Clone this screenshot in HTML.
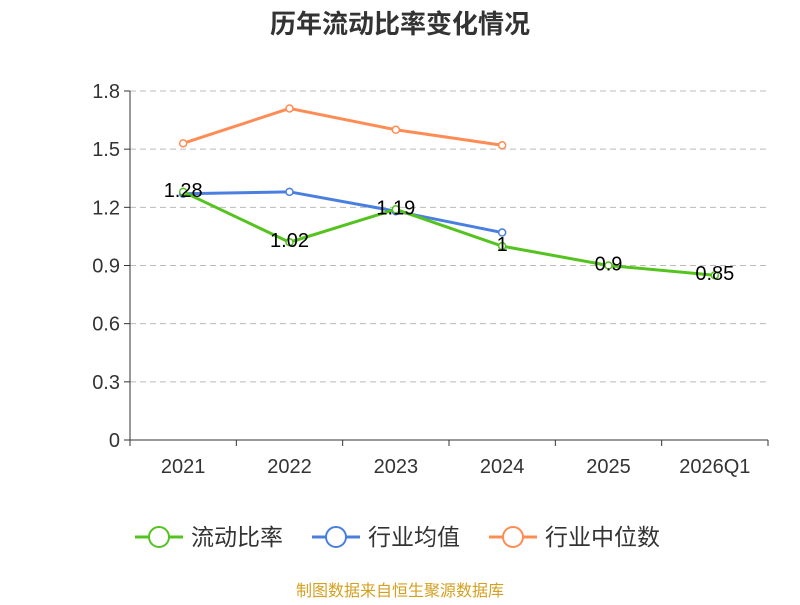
<!DOCTYPE html>
<html><head><meta charset="utf-8"><style>
body{margin:0;background:#fff;font-family:"Liberation Sans","Noto Sans CJK SC",sans-serif}
</style></head><body>
<svg width="800" height="600" xmlns="http://www.w3.org/2000/svg" font-family="Liberation Sans, Noto Sans CJK SC, sans-serif">
<rect width="800" height="600" fill="#fff"/>
<text x="400" y="33" text-anchor="middle" font-size="26" font-weight="bold" fill="#333">历年流动比率变化情况</text>
<g id="grid"></g><g id="axes"></g><g id="series"></g>
<g id="legend"></g>
<text x="400" y="596" text-anchor="middle" font-size="16" fill="#d4a020">制图数据来自恒生聚源数据库</text>
</svg>
<script>
const categories=["2021","2022","2023","2024","2025","2026Q1"];
const ratioValues=[1.28,1.02,1.19,1.0,0.9,0.85];
const ratioLabels=["1.28","1.02","1.19","1","0.9","0.85"];
const industryAvg=[1.27,1.28,1.18,1.07];
const industryMedian=[1.53,1.71,1.60,1.52];
const yTicks=[0,0.3,0.6,0.9,1.2,1.5,1.8];
const NS="http://www.w3.org/2000/svg";
const L=130,R=768,T=91,B=440,yMax=1.8;
const bw=(R-L)/categories.length;
const x=i=>L+bw*(i+0.5);
const y=v=>B-(v/yMax)*(B-T);
function mk(tag,attrs,parent,text){const e=document.createElementNS(NS,tag);for(const k in attrs)e.setAttribute(k,attrs[k]);if(text!==undefined)e.textContent=text;document.getElementById(parent).appendChild(e);return e;}
yTicks.forEach(t=>{
 if(t>0){const g=mk('line',{x1:L,x2:R,y1:y(t),y2:y(t),stroke:'#bbb','stroke-dasharray':'6,4'},'grid');
 
 }
 const tk=mk('line',{x1:L-6,x2:L,y1:y(t),y2:y(t),stroke:'#333'},'axes');
 
 
 const lb=mk('text',{x:L-10,y:y(t)+7,'text-anchor':'end','font-size':20,fill:'#333'},'axes',String(t));
 
 
});
const ya=mk('line',{x1:L,x2:L,y1:T,y2:B,stroke:'#333'},'axes');


const xa=mk('line',{x1:L,x2:R,y1:B,y2:B,stroke:'#333'},'axes');


for(let i=0;i<=categories.length;i++){const t=mk('line',{x1:L+bw*i,x2:L+bw*i,y1:B,y2:B+6,stroke:'#333'},'axes');
 
 }
categories.forEach((c,i)=>{const t=mk('text',{x:x(i),y:B+33,'text-anchor':'middle','font-size':20,fill:'#333'},'axes',c);
 
 });
function series(vals,color,name){
 const p=mk('polyline',{points:vals.map((v,i)=>x(i)+','+y(v)).join(' '),fill:'none',stroke:color,'stroke-width':3},'series');
 
 
 vals.forEach((v,i)=>{const c=mk('circle',{cx:x(i),cy:y(v),r:3.5,fill:'#fff',stroke:color,'stroke-width':1.5},'series');
  
  });
}
series(industryMedian,'#ff8c55','industry-median');
series(industryAvg,'#4a7fe0','industry-average');
series(ratioValues,'#55c31f','current-ratio');
ratioValues.forEach((v,i)=>{const t=mk('text',{x:x(i),y:y(v)+5,'text-anchor':'middle','font-size':20,fill:'#000'},'series',ratioLabels[i]);
 
 });
const leg=[["流动比率","#55c31f",135],["行业均值","#4a7fe0",312],["行业中位数","#ff8c55",489]];
leg.forEach(([n,c,lx])=>{
 const l=mk('line',{x1:lx,x2:lx+48,y1:537,y2:537,stroke:c,'stroke-width':3},'legend');
 
 
 const ci=mk('circle',{cx:lx+24,cy:537,r:10,fill:'#fff',stroke:c,'stroke-width':2},'legend');
 
 
 const t=mk('text',{x:lx+56,y:545,'font-size':23,fill:'#333'},'legend',n);
 
 
});
</script>
</body></html>
